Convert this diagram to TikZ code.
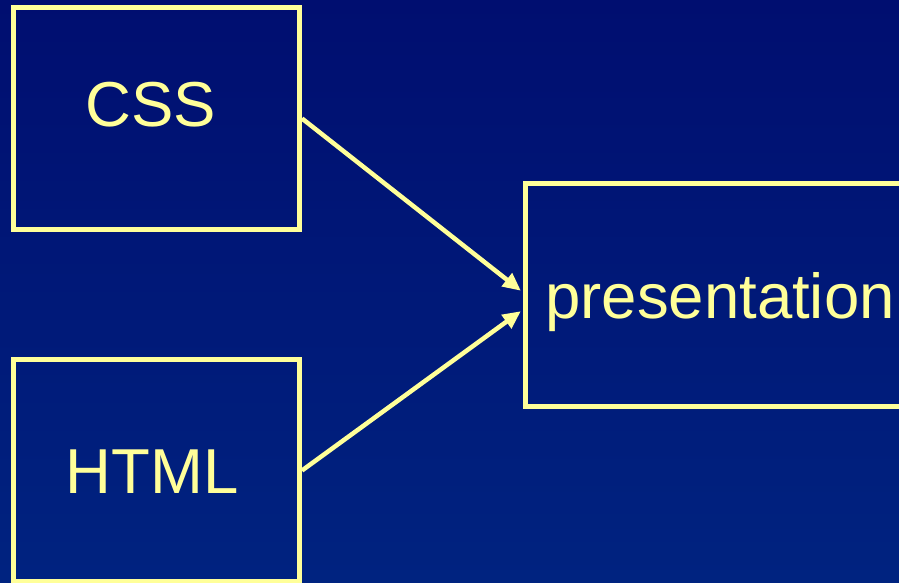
\documentclass[tikz,border=0pt]{standalone}
\usepackage{fontspec}
\setmainfont{Liberation Sans}
\usetikzlibrary{arrows.meta}

\definecolor{bgtop}{RGB}{0,14,112}
\definecolor{bgbottom}{RGB}{0,35,128}
\definecolor{paleyellow}{RGB}{255,255,153}

\begin{document}
\begin{tikzpicture}[x=1pt, y=-1pt,
    box/.style={draw=paleyellow, line width=5pt, inner sep=0pt,
        minimum width=286pt, minimum height=222pt,
        text=paleyellow, font=\fontsize{63.5}{76}\selectfont,
        text height=46pt, text depth=0pt},
    feed/.style={draw=paleyellow, line width=4.5pt, shorten >=2pt,
        -{Triangle[length=18pt, width=16pt]}}]

    % Slide background
    \shade[top color=bgtop, bottom color=bgbottom] (0,0) rectangle (899,583);
    \useasboundingbox (0,0) rectangle (899,583);

    % Style sheet box
    \node[box] (css) at (156.5,118.5) {\raisebox{15pt}{CSS}\kern11pt};

    % Markup box
    \node[box] (html) at (156.5,470.5) {HTML\kern9pt};

    % Result box
    \node[box, minimum width=390pt, minimum height=223pt] (pres) at (720,295) {presentation};

    % Both feed the result
    \draw[feed] (css.east) -- ([yshift=3pt]pres.west);
    \draw[feed] (html.east) -- ([yshift=-15pt]pres.west);

\end{tikzpicture}
\end{document}
